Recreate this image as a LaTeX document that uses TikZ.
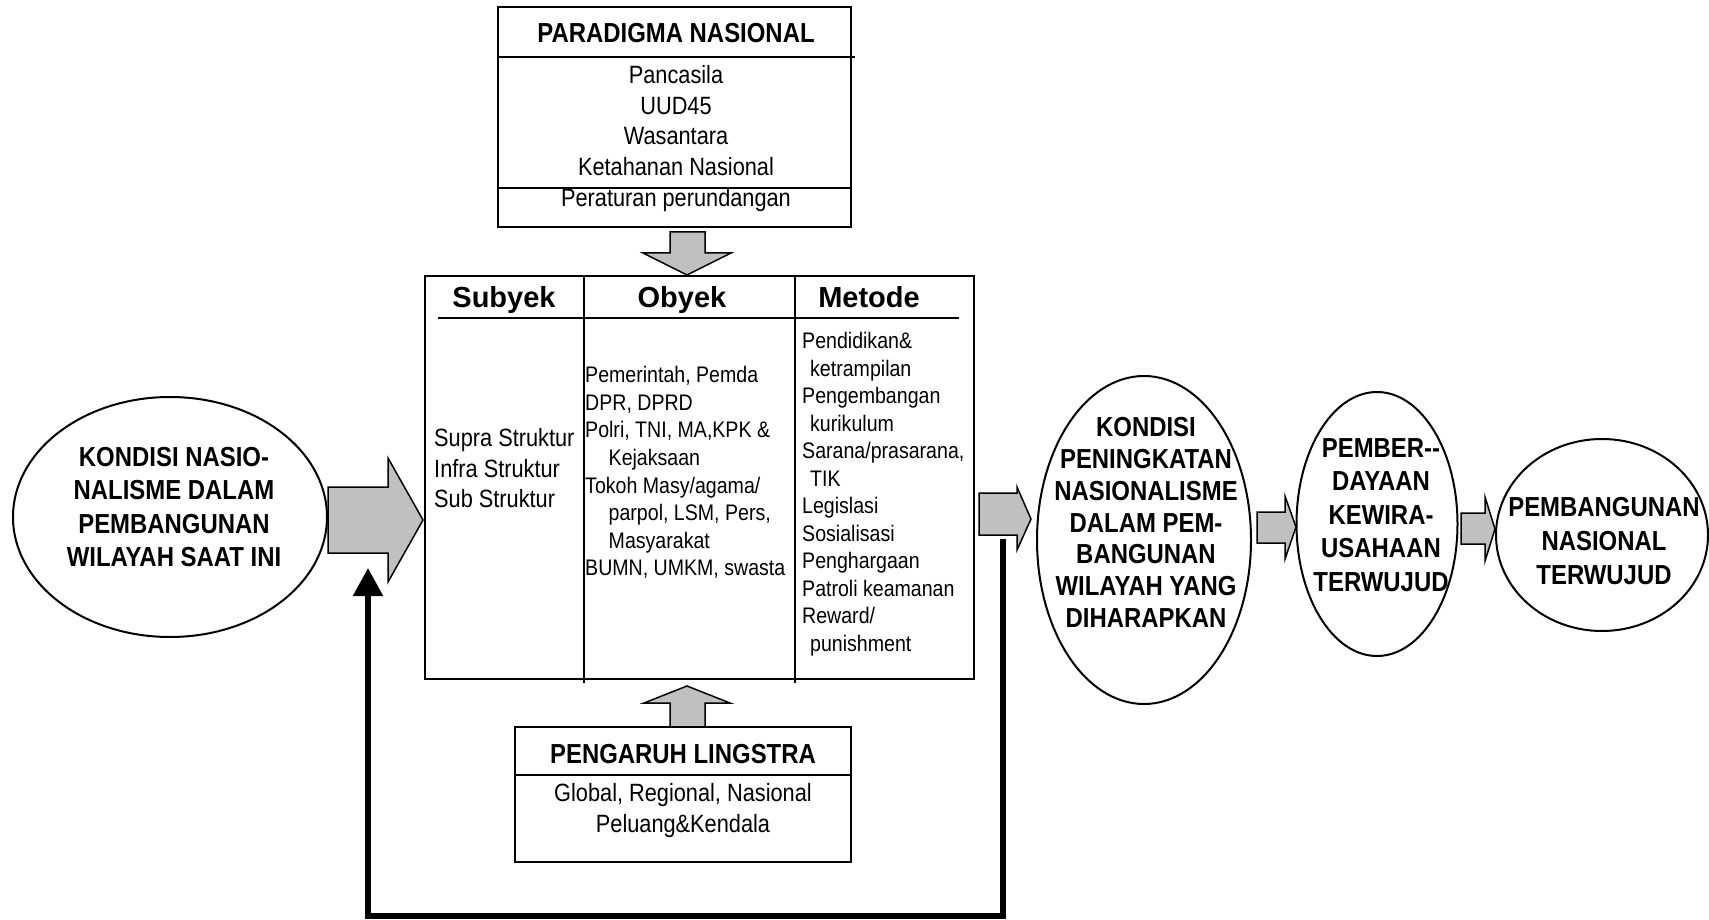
\documentclass[tikz,border=0pt]{standalone}
\usepackage{fontspec}
\setmainfont[FakeStretch=0.87]{Liberation Sans}
\newfontfamily\hdrfont{Liberation Sans}
\usetikzlibrary{shapes.geometric,arrows.meta}
\definecolor{silver}{RGB}{192,192,192}
\newcommand\btfont[1]{\fontsize{27.5}{#1}\selectfont\bfseries}
\begin{document}
\begin{tikzpicture}[x=1pt,y=-1pt,
  box/.style={draw, line width=2pt, inner sep=0, outer sep=0, anchor=north west},
  ell/.style={draw, ellipse, line width=2pt, inner sep=0, outer sep=0},
  garrow/.style={draw, line width=1.5pt, fill=silver, line join=miter},
  rule/.style={line width=2pt},
  big/.style={font=\fontsize{25}{30}\selectfont, inner sep=0, anchor=base},
  small/.style={font=\fontsize{22.5}{27}\selectfont, inner sep=0, anchor=base west},
  btitle/.style={font=\btfont{33}, inner sep=0, anchor=base},
  hdr/.style={font=\hdrfont\bfseries\fontsize{29}{32}\selectfont, inner sep=0, anchor=base},
  etext/.style={align=center, inner sep=0, anchor=center},
  feedback/.style={line width=5.5pt, -{Triangle[width=29pt,length=28pt]}},
]
\useasboundingbox (0,0) rectangle (1709,920);

% Paradigma Nasional
\node[box, minimum width=353pt, minimum height=220pt] (para) at (498,7) {};
\draw[rule] (498,57) -- (855,57);
\draw[rule] (498,188) -- (851,188);
\node[btitle] (ptitle) at (676,43) {PARADIGMA NASIONAL};
\foreach \t [count=\i] in {Pancasila,UUD45,Wasantara,Ketahanan Nasional,Peraturan perundangan}
  \node[big] (pl\i) at (676,{83.5+30.7*(\i-1)}) {\t};

% down arrow
\draw[garrow] (670,232) -- (705,232) -- (705,253) -- (731,253) -- (687,275) -- (643,253) -- (670,253) -- cycle;

% Main table
\node[box, minimum width=549pt, minimum height=403pt] (main) at (425,276) {};
\draw[rule] (584,276) -- (584,683);
\draw[rule] (795,276) -- (795,683);
\draw[rule] (438,318) -- (959,318);
\node[hdr] (hsub) at (504,307) {Subyek};
\node[hdr] (hob) at (682,307) {Obyek};
\node[hdr] (hmet) at (869,307) {Metode};
\foreach \t [count=\i] in {Supra Struktur,Infra Struktur,Sub Struktur}
  \node[big, anchor=base west] (su\i) at (434,{446.5+30.5*(\i-1)}) {\t};
\foreach \t [count=\i] in {{Pemerintah, Pemda},{DPR, DPRD},{Polri, TNI, MA,KPK \&},{\hspace*{23.5pt}Kejaksaan},{Tokoh Masy/agama/},{\hspace*{23.5pt}parpol, LSM, Pers,},{\hspace*{23.5pt}Masyarakat},{BUMN, UMKM, swasta}}
  \node[small] (ob\i) at (585,{382.7+27.6*(\i-1)}) {\t};
\foreach \t [count=\i] in {{Pendidikan\&},{\hspace*{8pt}ketrampilan},{Pengembangan},{\hspace*{8pt}kurikulum},{Sarana/prasarana,},{\hspace*{8pt}TIK},{Legislasi},{Sosialisasi},{Penghargaan},{Patroli keamanan},{Reward/},{\hspace*{8pt}punishment}}
  \node[small] (me\i) at (802,{348.7+27.5*(\i-1)}) {\t};

% up arrow
\draw[garrow] (670,727) -- (705,727) -- (705,703) -- (730,703) -- (687,686) -- (644,703) -- (670,703) -- cycle;

% Pengaruh Lingstra
\node[box, minimum width=336pt, minimum height=135pt] (ling) at (515,727) {};
\draw[rule] (515,775) -- (851,775);
\node[btitle] (ltitle) at (683,763) {PENGARUH LINGSTRA};
\node[big] (l1) at (683,801.5) {Global, Regional, Nasional};
\node[big] (l2) at (683,832.5) {Peluang\&Kendala};

% Ellipses
\node[ell, minimum width=314pt, minimum height=240pt] (e1) at (170,517) {};
\node[ell, minimum width=214pt, minimum height=328pt] (e2) at (1144,540) {};
\node[ell, minimum width=161pt, minimum height=264pt] (e3) at (1377,524) {};
\node[ell, minimum width=212pt, minimum height=192pt] (e4) at (1602,535) {};
\node[etext, font=\btfont{33.3}] (t1) at (174,507) {KONDISI NASIO-\\NALISME DALAM\\PEMBANGUNAN\\WILAYAH SAAT INI};
\node[etext, font=\btfont{31.8}] (t2) at (1146,522.5) {KONDISI\\PENINGKATAN\\NASIONALISME\\DALAM PEM-\\BANGUNAN\\WILAYAH YANG\\DIHARAPKAN};
\node[etext, font=\btfont{33.5}] (t3) at (1381,515) {PEMBER{-}{-}\\DAYAAN\\KEWIRA-\\USAHAAN\\TERWUJUD};
\node[etext, font=\btfont{34}] (t4) at (1604,541) {PEMBANGUNAN\\NASIONAL\\TERWUJUD};

% Block arrows
\draw[garrow] (328,487) -- (388,487) -- (388,458) -- (423,520) -- (388,582) -- (388,553) -- (328,553) -- cycle;
\draw[garrow] (979,493) -- (1017,493) -- (1017,487) -- (1031,519) -- (1017,550) -- (1017,535) -- (979,535) -- cycle;
\draw[garrow] (1257,512) -- (1285,512) -- (1285,496) -- (1296,527) -- (1285,559) -- (1285,543) -- (1257,543) -- cycle;
\draw[garrow] (1461,513) -- (1485,513) -- (1485,497) -- (1495,529) -- (1485,561) -- (1485,544) -- (1461,544) -- cycle;

% Feedback loop
\coordinate (fbstart) at (1003,539);
\coordinate (fbend) at (368,568);
\draw[feedback] (fbstart) |- (368,916) -- (fbend);
\end{tikzpicture}
\end{document}
